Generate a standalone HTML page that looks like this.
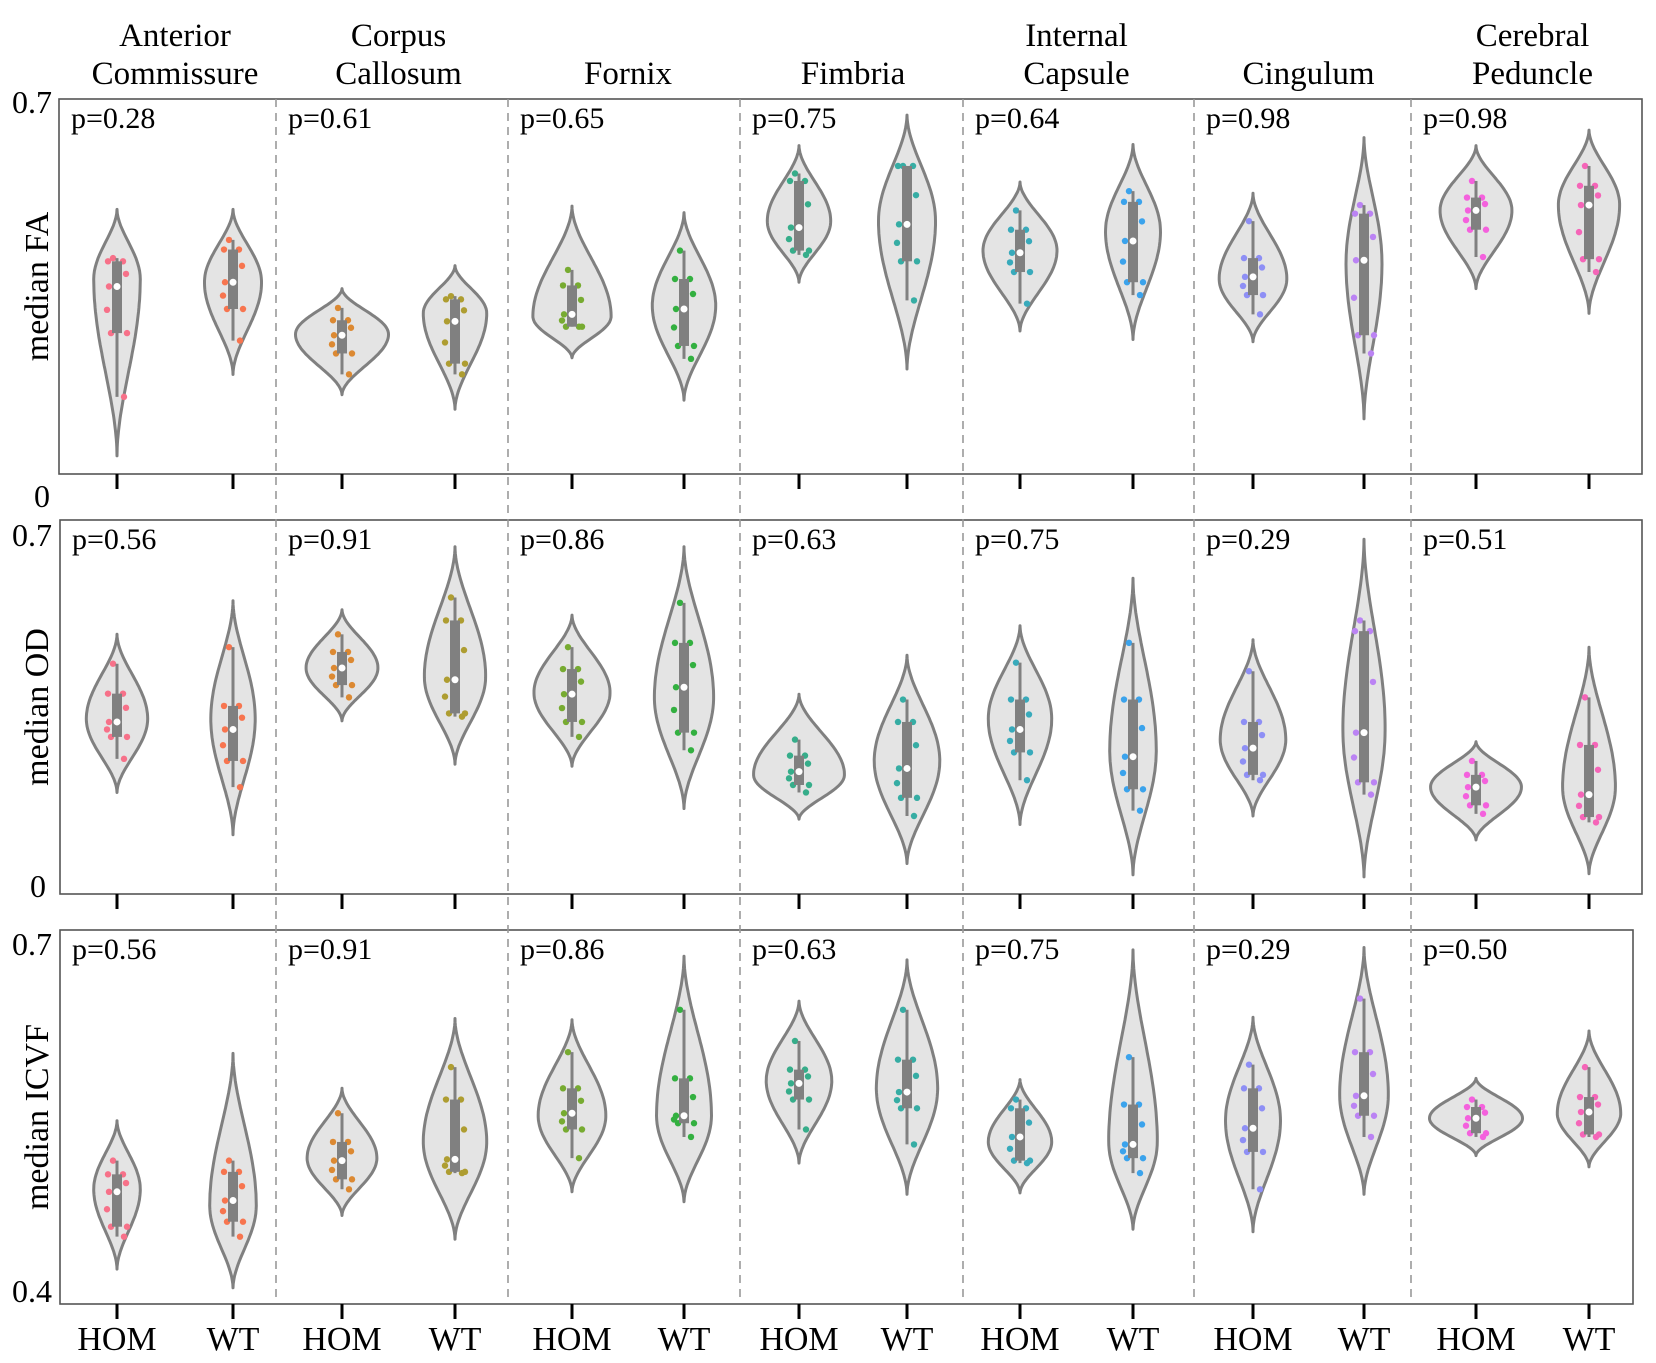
<!DOCTYPE html>
<html><head><meta charset="utf-8"><style>
body{margin:0;background:#fff}
svg text{font-family:"Liberation Serif",serif;fill:#000}
</style></head><body>
<svg id="c" width="1656" height="1358" viewBox="0 0 1656 1358" xmlns="http://www.w3.org/2000/svg"></svg>
<script>
const regions=["Anterior|Commissure","Corpus|Callosum","|Fornix","|Fimbria","Internal|Capsule","|Cingulum","Cerebral|Peduncle"];
const groups=["HOM","WT"];
const metrics=["FA","OD","ICVF"];
const pFA=["0.28","0.61","0.65","0.75","0.64","0.98","0.98"];
const pOD=["0.56","0.91","0.86","0.63","0.75","0.29","0.51"];
const pICVF=["0.56","0.91","0.86","0.63","0.75","0.29","0.50"];
const yMin=[0,0,0.4];
const yMax=[0.7,0.7,0.7];
// each violin: [tipHigh, tipLow, mode, q3, q1, median, whiskerHigh, whiskerLow]
const faStats=[
[.494,.034,.364,.397,.263,.350,.403,.144],[.494,.186,.358,.419,.308,.358,.437,.249],
[.346,.148,.261,.287,.225,.259,.310,.186],[.389,.121,.300,.326,.206,.285,.332,.186],
[.500,.217,.294,.352,.275,.298,.381,.275],[.488,.138,.314,.364,.239,.308,.417,.215],
[.613,.358,.472,.547,.417,.460,.561,.409],[.670,.196,.472,.575,.397,.466,.575,.324],
[.545,.267,.417,.456,.377,.413,.492,.318],[.615,.251,.453,.508,.358,.435,.528,.334],
[.524,.247,.364,.403,.334,.368,.472,.298],[.628,.103,.393,.486,.259,.399,.502,.225],
[.613,.346,.492,.516,.456,.492,.547,.405],[.642,.300,.502,.538,.401,.502,.575,.377]];
const odStats=[
[.486,.190,.328,.375,.294,.322,.431,.253],[.549,.111,.328,.352,.249,.308,.462,.200],
[.532,.324,.423,.453,.391,.423,.486,.368],[.650,.243,.407,.512,.338,.401,.555,.332],
[.522,.239,.377,.421,.322,.374,.462,.294],[.650,.160,.368,.470,.302,.387,.545,.269],
[.374,.140,.223,.259,.204,.229,.289,.190],[.447,.057,.249,.322,.180,.235,.364,.146],
[.502,.130,.328,.364,.265,.308,.433,.213],[.591,.036,.269,.364,.196,.257,.470,.156],
[.476,.146,.289,.322,.223,.273,.417,.213],[.664,.032,.308,.492,.209,.302,.512,.186],
[.285,.101,.200,.223,.166,.200,.249,.150],[.462,.038,.200,.279,.144,.186,.368,.134]];
const icvfStats=[
[.547,.428,.492,.504,.462,.490,.515,.454],[.601,.413,.479,.506,.466,.483,.515,.454],
[.573,.471,.517,.530,.500,.515,.553,.492],[.629,.452,.530,.564,.506,.516,.590,.505],
[.628,.490,.551,.573,.540,.553,.602,.517],[.679,.482,.551,.581,.545,.551,.636,.534],
[.643,.513,.579,.588,.564,.577,.611,.540],[.676,.488,.573,.596,.557,.570,.636,.528],
[.580,.489,.530,.557,.515,.534,.564,.513],[.684,.460,.530,.560,.517,.528,.598,.505],
[.630,.458,.547,.573,.522,.541,.592,.492],[.686,.488,.568,.602,.551,.567,.645,.534],
[.581,.519,.549,.558,.537,.549,.564,.534],[.619,.510,.553,.566,.536,.554,.590,.534]];
// relative violin widths (density scale)
const faWidth=[22,27,44,30,37,30,30,27,35,26,32,17,34,29];
const odWidth=[29,21,34,29,36,28,43,31,30,22,31,20,43,25];
const icvfWidth=[22,22,33,30,32,26,31,29,30,23,26,23,44,30];

const allStats=[faStats,odStats,icvfStats];
const allWidth=[faWidth,odWidth,icvfWidth];
const allP=[pFA,pOD,pICVF];
const colors=["#f77189","#f7754f","#dc8932","#ae9d31","#77ab31","#33b040","#36ad8a","#36ada4","#38aabb","#3ba3ec","#8e8ff5","#bb83f4","#f461dd","#f565b8"];
const xs=[117,233,342,455,572,684,799,907,1020,1133,1253,1364,1476,1589];
const seps=[276,508,740,963,1194,1411];
const rows=[{t:99,b:474,l:59,r:1642},{t:520,b:894,l:60,r:1642},{t:930,b:1304,l:60,r:1633}];
const NS="http://www.w3.org/2000/svg";
const svg=document.getElementById('c');
function mk(tag,attrs,parent){const e=document.createElementNS(NS,tag);for(const k in attrs)e.setAttribute(k,attrs[k]);(parent||svg).appendChild(e);return e;}
function yS(r,v){const R=rows[r];return R.b-(v-yMin[r])/(yMax[r]-yMin[r])*(R.b-R.t);}

rows.forEach((R,r)=>{
  const f=mk('rect',{x:R.l,y:R.t,width:R.r-R.l,height:R.b-R.t,fill:'none',stroke:'#555','stroke-width':1.6});
  
  
});
seps.forEach((x,i)=>{
  const l=mk('line',{x1:x,y1:99,x2:x,y2:1298,stroke:'#999','stroke-width':1.6,'stroke-dasharray':'8,6'});
  
  
});
regions.forEach((t,i)=>{
  const cx=(xs[2*i]+xs[2*i+1])/2;const parts=t.split('|');
  const tx=mk('text',{x:cx,y:46,'font-size':33,'text-anchor':'middle'});
  tx.textContent=parts[0];
  
  
  const tx2=mk('text',{x:cx,y:84,'font-size':33,'text-anchor':'middle'});
  tx2.textContent=parts[1];
  
  
});
const ytl=[["0.7",32,113],["0",42,507],["0.7",32,546],["0",38,897],["0.7",32,955],["0.4",32,1302]];
ytl.forEach(a=>{const t=mk('text',{x:a[1],y:a[2],'font-size':32,'text-anchor':'middle'});t.textContent=a[0];
  
  });
rows.forEach((R,r)=>{
  const cy=(R.t+R.b)/2;
  const t=mk('text',{x:0,y:0,'font-size':34,'text-anchor':'middle',transform:`translate(48,${cy}) rotate(-90)`,'xml:space':'preserve'});
  t.textContent='median   '+metrics[r];
  
  
  xs.forEach(x=>{const tk=mk('line',{x1:x,y1:R.b,x2:x,y2:R.b+15,stroke:'#000','stroke-width':3});
    
    });
  allP[r].forEach((p,i)=>{
    const x0=(i===0?R.l:seps[i-1])+12;
    const pt=mk('text',{x:x0,y:R.t+29,'font-size':30});
    pt.textContent='p='+p;
    
    
  });
  allStats[r].forEach((s,i)=>{
    const [hi,lo,mode,q3,q1,med,wh,wl]=s;const cx=xs[i];const hw=allWidth[r][i]*1.057;
    const yHi=yS(r,hi),yLo=yS(r,lo),yMo=yS(r,mode);
    const pts=[];const N=60;
    for(let k=0;k<=N;k++){const y=yLo+(yHi-yLo)*k/N;let sv;
      if(y>yMo)sv=(yLo-y)/(yLo-yMo);else sv=(y-yHi)/(yMo-yHi);
      const w=hw*Math.pow(Math.sin(sv*Math.PI/2),1.8);pts.push([y,w]);}
    let d='M'+cx+','+yLo.toFixed(1);
    pts.forEach(p=>d+=' L'+(cx+p[1]).toFixed(1)+','+p[0].toFixed(1));
    pts.slice().reverse().forEach(p=>d+=' L'+(cx-p[1]).toFixed(1)+','+p[0].toFixed(1));
    d+='Z';
    const g=mk('g',{});
    
    
    mk('path',{d:d,fill:'#e4e4e4',stroke:'#808080','stroke-width':3,'stroke-linejoin':'round'},g);
    const pv=[wh,q3,med,q1,wl,(q3+med)/2,(q1+med)/2,q3,q1];
    const off=[-4,6,-8,-6,7,9,-10,-9,10];
    pv.forEach((v,k)=>{const c=mk('circle',{cx:cx+off[k],cy:yS(r,v),r:3.2,fill:colors[i]},g);
      
      });
    mk('line',{x1:cx,y1:yS(r,wh),x2:cx,y2:yS(r,wl),stroke:'#808080','stroke-width':3},g);
    mk('rect',{x:cx-5,y:yS(r,q3),width:10,height:yS(r,q1)-yS(r,q3),fill:'#808080'},g);
    mk('circle',{cx:cx,cy:yS(r,med),r:3.5,fill:'#fff'},g);
  });
});
xs.forEach((x,i)=>{const t=mk('text',{x:x,y:1350,'font-size':34,'text-anchor':'middle'});t.textContent=groups[i%2];
  
  });
</script>
</body></html>
